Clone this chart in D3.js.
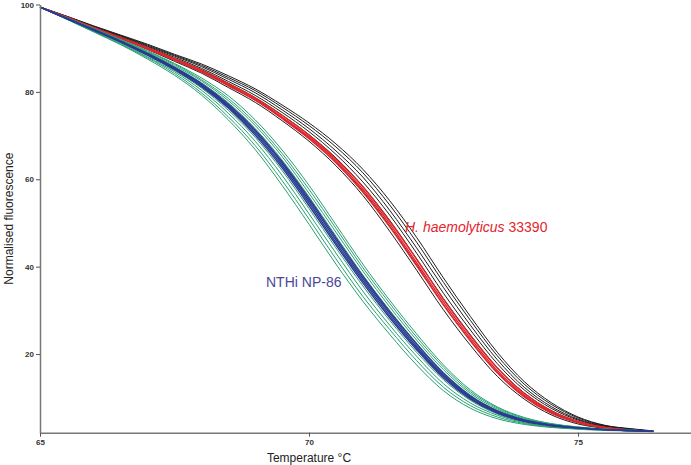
<!DOCTYPE html>
<html>
<head>
<meta charset="utf-8">
<script src="https://cdn.jsdelivr.net/npm/d3@7"></script>
<style>
  html, body { margin: 0; padding: 0; background: #fff; }
  svg { display: block; }
  text { font-family: "Liberation Sans", Arial, sans-serif; }
</style>
</head>
<body>
<svg id="chart" width="691" height="465"></svg>
<script>
// ---------------- data ----------------
const temps = [65,65.5,66,66.5,67,67.5,68,68.5,69,69.5,70,70.5,71,71.5,72,72.5,73,73.5,74,74.5,75,75.5,76,76.4];

const haemolyticusBlack = [
  [99.4,97.0,94.5,92.2,89.7,87.0,84.3,81.0,77.6,73.4,68.7,63.1,56.3,48.1,39.2,30.1,22.0,14.9,9.7,6.1,4.0,3.0,2.5,2.3],
  [99.4,97.1,94.6,92.3,89.9,87.3,84.6,81.5,78.1,74.0,69.4,63.9,57.3,49.3,40.4,31.3,23.1,15.8,10.3,6.6,4.3,3.1,2.6,2.3],
  [99.4,97.1,94.7,92.5,90.1,87.6,85.1,82.0,78.7,74.7,70.2,64.9,58.4,50.6,41.8,32.7,24.4,16.9,11.1,7.1,4.6,3.3,2.6,2.3],
  [99.4,97.2,94.8,92.6,90.3,87.9,85.4,82.4,79.2,75.3,70.9,65.7,59.4,51.8,43.1,33.9,25.5,17.8,11.8,7.6,4.9,3.4,2.7,2.3],
  [99.4,97.2,94.9,92.8,90.5,88.2,85.8,82.9,79.8,75.9,71.6,66.5,60.5,52.9,44.3,35.2,26.6,18.7,12.4,8.0,5.1,3.5,2.8,2.3],
  [99.4,97.3,95.0,92.9,90.7,88.4,86.1,83.3,80.3,76.5,72.3,67.4,61.5,54.1,45.6,36.4,27.7,19.6,13.1,8.5,5.4,3.6,2.8,2.3],
  [99.4,97.3,95.1,93.0,90.9,88.6,86.4,83.7,80.7,77.0,72.9,68.1,62.3,55.1,46.7,37.4,28.6,20.4,13.7,8.9,5.6,3.7,2.9,2.4]
];

const haemolyticusRed = [
  [99.4,97.1,94.6,92.3,89.8,87.3,84.6,81.4,78.1,73.9,69.3,63.8,57.1,49.1,40.2,31.2,23.0,15.7,10.2,6.5,4.3,3.1,2.5,2.3],
  [99.4,97.1,94.7,92.4,89.9,87.4,84.8,81.7,78.4,74.2,69.7,64.3,57.7,49.8,40.9,31.9,23.6,16.2,10.6,6.8,4.4,3.2,2.6,2.3],
  [99.4,97.1,94.7,92.4,90.1,87.6,85.0,81.9,78.6,74.6,70.1,64.7,58.3,50.4,41.7,32.5,24.2,16.8,11.0,7.0,4.6,3.2,2.6,2.3]
];

const nthiGreen = [
  [99.4,96.7,94.1,91.3,88.3,84.9,80.9,75.8,69.6,62.0,53.3,44.3,35.6,27.7,20.4,14.1,9.4,6.3,4.5,3.6,3.0,2.7,2.5,2.3],
  [99.4,96.9,94.3,91.7,88.8,85.7,82.1,77.5,71.6,64.4,56.0,47.0,38.1,30.0,22.5,15.8,10.6,7.1,5.0,3.8,3.2,2.7,2.5,2.3],
  [99.4,96.9,94.4,91.8,89.0,86.0,82.5,78.0,72.3,65.2,56.8,47.9,39.0,30.8,23.2,16.4,11.0,7.4,5.1,3.9,3.2,2.8,2.5,2.3],
  [99.4,96.9,94.5,91.9,89.2,86.3,82.8,78.5,72.9,65.9,57.7,48.8,39.8,31.6,23.9,17.0,11.4,7.7,5.3,4.0,3.3,2.8,2.6,2.3],
  [99.4,97.0,94.5,92.0,89.4,86.5,83.2,79.1,73.6,66.7,58.6,49.6,40.6,32.3,24.6,17.5,11.8,7.9,5.5,4.1,3.3,2.8,2.6,2.3],
  [99.4,96.7,93.9,91.1,88.0,84.6,80.4,75.1,68.7,60.9,52.1,43.1,34.4,26.6,19.5,13.2,8.8,6.0,4.3,3.4,2.9,2.6,2.4,2.3],
  [99.4,96.6,93.8,90.9,87.8,84.2,79.8,74.3,67.7,59.7,50.9,41.8,33.2,25.6,18.5,12.4,8.2,5.6,4.1,3.3,2.9,2.6,2.4,2.3],
  [99.4,96.6,93.7,90.8,87.5,83.8,79.3,73.6,66.8,58.6,49.7,40.6,32.1,24.5,17.5,11.6,7.6,5.2,3.9,3.2,2.8,2.5,2.4,2.2]
];

const nthiBlue = [
  [99.4,96.8,94.1,91.4,88.4,85.1,81.2,76.3,70.1,62.6,54.0,45.0,36.3,28.3,21.0,14.5,9.7,6.5,4.6,3.6,3.1,2.7,2.5,2.3],
  [99.4,96.8,94.2,91.5,88.5,85.3,81.5,76.6,70.5,63.1,54.6,45.5,36.8,28.8,21.4,14.9,9.9,6.7,4.7,3.7,3.1,2.7,2.5,2.3],
  [99.4,96.8,94.2,91.5,88.6,85.5,81.7,76.9,70.9,63.6,55.1,46.1,37.3,29.3,21.8,15.2,10.2,6.9,4.8,3.7,3.1,2.7,2.5,2.3],
  [99.4,96.8,94.3,91.6,88.8,85.6,81.9,77.2,71.3,64.0,55.6,46.6,37.8,29.7,22.3,15.6,10.4,7.0,4.9,3.8,3.1,2.7,2.5,2.3]
];

const xTicks = [65, 70, 75];
const yTicks = [20, 40, 60, 80, 100];
const xTitle = "Temperature °C";
const yTitle = "Normalised fluorescence";

// ---------------- drawing ----------------
const svg = d3.select("#chart");
svg.append("rect").attr("width", 691).attr("height", 465).attr("fill", "#fff");

const x = d3.scaleLinear().domain([65, 77.1]).range([40, 691]);
const y = d3.scaleLinear().domain([2, 100]).range([432.7, 4.5]);

const line = d3.line()
  .x((d, i) => x(temps[i]))
  .y(d => y(d))
  .curve(d3.curveMonotoneX);

function drawGroup(data, color, width) {
  svg.append("g")
    .selectAll("path")
    .data(data)
    .join("path")
    .attr("d", line)
    .attr("fill", "none")
    .attr("stroke", color)
    .attr("stroke-width", width)
    .attr("stroke-linejoin", "round");
}

drawGroup(haemolyticusBlack, "#1e1e1e", 1.0);
drawGroup(haemolyticusRed, "#e3262c", 1.4);
drawGroup(nthiGreen, "#27a070", 1.0);
drawGroup(nthiBlue, "#2a3a92", 1.4);

// axes
const xAxis = svg.append("g")
  .attr("transform", `translate(0,${y(2)})`)
  .call(d3.axisBottom(x).tickValues(xTicks).tickSize(4).tickSizeOuter(0).tickPadding(3));
const yAxis = svg.append("g")
  .attr("transform", `translate(${x(65)},0)`)
  .call(d3.axisLeft(y).tickValues(yTicks).tickSize(4).tickSizeOuter(0).tickPadding(2));

[xAxis, yAxis].forEach(g => {
  g.select(".domain").attr("stroke", "#777").attr("stroke-width", 1.5);
  g.selectAll(".tick line").attr("stroke", "#555").attr("stroke-width", 1);
  g.selectAll(".tick text")
    .attr("fill", "#333")
    .style("font-size", "8px")
    .style("font-weight", "bold")
    .style("font-family", "'Liberation Sans', Arial, sans-serif");
});

// axis titles
svg.append("text")
  .attr("x", 309).attr("y", 462)
  .attr("text-anchor", "middle")
  .attr("fill", "#222")
  .style("font-size", "12px")
  .text(xTitle);

svg.append("text")
  .attr("transform", `translate(13,${(y(2) + y(100)) / 2}) rotate(-90)`)
  .attr("text-anchor", "middle")
  .attr("fill", "#222")
  .style("font-size", "12px")
  .text(yTitle);

// labels
const hLabel = svg.append("text")
  .attr("x", 405).attr("y", 232)
  .attr("fill", "#e3262c")
  .style("font-size", "14px");
hLabel.append("tspan").style("font-style", "italic").text("H. haemolyticus");
hLabel.append("tspan").text(" 33390");

svg.append("text")
  .attr("x", 266).attr("y", 287)
  .attr("fill", "#4a4795")
  .style("font-size", "14px")
  .text("NTHi NP-86");
</script>
</body>
</html>
